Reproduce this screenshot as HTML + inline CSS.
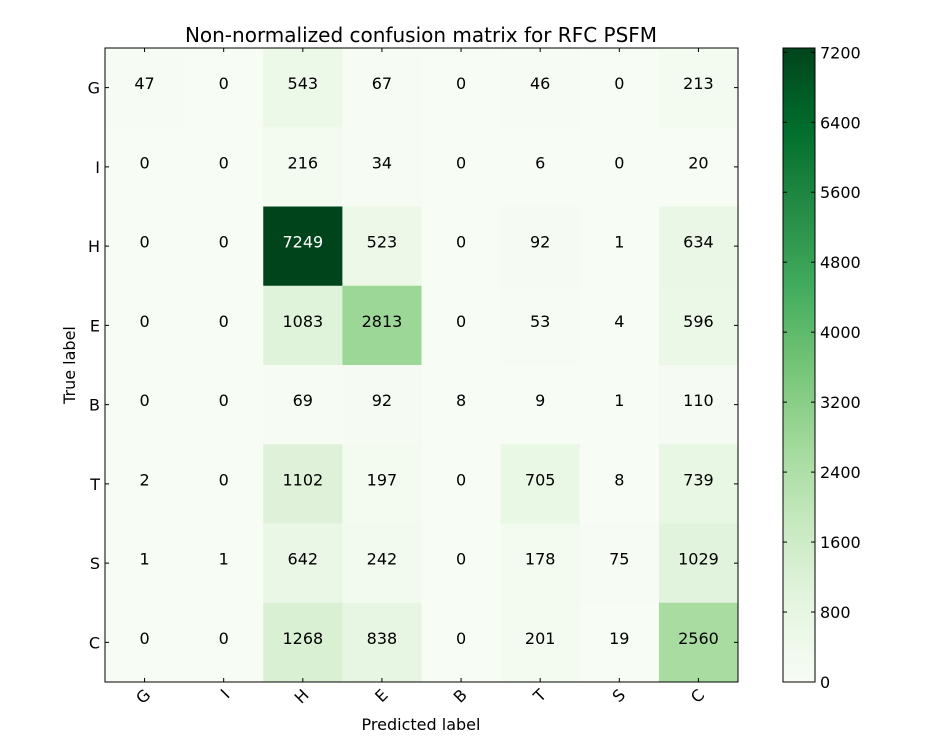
<!DOCTYPE html>
<html><head><meta charset="utf-8"><style>
html,body{margin:0;padding:0;background:#fff;}
svg text{font-family:"DejaVu Sans","Liberation Sans",sans-serif;}
</style></head><body>
<svg id="chart" width="937" height="736" xmlns="http://www.w3.org/2000/svg">
<defs>
<linearGradient id="greens" x1="0" y1="1" x2="0" y2="0">
<stop offset="0" stop-color="#f7fcf5"/><stop offset="0.125" stop-color="#e5f5e0"/>
<stop offset="0.25" stop-color="#c7e9c0"/><stop offset="0.375" stop-color="#a1d99b"/>
<stop offset="0.5" stop-color="#74c476"/><stop offset="0.625" stop-color="#41ab5d"/>
<stop offset="0.75" stop-color="#238b45"/><stop offset="0.875" stop-color="#006d2c"/>
<stop offset="1" stop-color="#00441b"/>
</linearGradient>
</defs>
<text x="421" y="42" font-size="20" text-anchor="middle">Non-normalized confusion matrix for RFC PSFM</text>
<g id="cells"></g>
<rect x="105" y="48" width="633" height="634" fill="none" stroke="#000" stroke-width="1"/>
<g id="axes"></g>
<text x="421" y="730" font-size="16" text-anchor="middle">Predicted label</text>
<text x="75" y="365" font-size="16" text-anchor="middle" transform="rotate(-90 75 365)">True label</text>
<rect x="783" y="48" width="32" height="634" fill="url(#greens)" stroke="#000" stroke-width="1"/>
<g id="cbar"></g>
</svg>
<script>
const labels=["G","I","H","E","B","T","S","C"];
const row0=[47,0,543,67,0,46,0,213];
const row1=[0,0,216,34,0,6,0,20];
const row2=[0,0,7249,523,0,92,1,634];
const row3=[0,0,1083,2813,0,53,4,596];
const row4=[0,0,69,92,8,9,1,110];
const row5=[2,0,1102,197,0,705,8,739];
const row6=[1,1,642,242,0,178,75,1029];
const row7=[0,0,1268,838,0,201,19,2560];
const cbarTicks=[0,800,1600,2400,3200,4000,4800,5600,6400,7200];
const matrix=[row0,row1,row2,row3,row4,row5,row6,row7];
const NS="http://www.w3.org/2000/svg";
const X0=105,Y0=48,W=633,H=634,n=labels.length,cw=W/n,ch=H/n;
const vmax=Math.max(...matrix.flat());
const stops=["#f7fcf5","#e5f5e0","#c7e9c0","#a1d99b","#74c476","#41ab5d","#238b45","#006d2c","#00441b"];
function hex(h){return [1,3,5].map(i=>parseInt(h.substr(i,2),16));}
function color(v){let t=Math.max(0,Math.min(1,v/vmax))*8;let i=Math.min(7,Math.floor(t));let f=t-i;
 let a=hex(stops[i]),b=hex(stops[i+1]);return "rgb("+a.map((c,k)=>Math.round(c+(b[k]-c)*f)).join(",")+")";}
function mk(tag,attrs,parent){const e=document.createElementNS(NS,tag);for(const k in attrs)e.setAttribute(k,attrs[k]);parent.appendChild(e);return e;}
const cells=document.getElementById("cells"),axes=document.getElementById("axes"),cbar=document.getElementById("cbar");
matrix.forEach((row,r)=>row.forEach((v,c)=>{
 const rc=mk("rect",{x:X0+c*cw,y:Y0+r*ch,width:cw+0.5,height:ch+0.5,fill:color(v)},cells);
 
 
 const t=mk("text",{x:X0+(c+0.5)*cw,y:Y0+r*ch+41,"font-size":16,"text-anchor":"middle",fill:v>vmax/2?"#fff":"#000"},cells);
 t.textContent=v;
 
 
}));
labels.forEach((l,i)=>{
 const cx=X0+(i+0.5)*cw, cy=Y0+(i+0.5)*ch;
 mk("line",{x1:cx,y1:Y0+H,x2:cx,y2:Y0+H-4,stroke:"#000"},axes);
 mk("line",{x1:cx,y1:Y0,x2:cx,y2:Y0+4,stroke:"#000"},axes);
 mk("line",{x1:X0,y1:cy,x2:X0+4,y2:cy,stroke:"#000"},axes);
 mk("line",{x1:X0+W,y1:cy,x2:X0+W-4,y2:cy,stroke:"#000"},axes);
 const tx=mk("text",{x:cx+7,y:Y0+H+14,"font-size":16,"text-anchor":"end",transform:`rotate(-45 ${cx+7} ${Y0+H+14})`},axes);
 tx.textContent=l;
 
 
 const ty=mk("text",{x:X0-5,y:cy+6,"font-size":16,"text-anchor":"end"},axes);
 ty.textContent=l;
 
 
});
cbarTicks.forEach(v=>{
 const y=682-v/vmax*634;
 mk("line",{x1:811,y1:y,x2:815,y2:y,stroke:"#000"},cbar);
 mk("line",{x1:783,y1:y,x2:787,y2:y,stroke:"#000"},cbar);
 const t=mk("text",{x:820,y:y+6,"font-size":16},cbar);
 t.textContent=v;
 
 
});
</script>
</body></html>
